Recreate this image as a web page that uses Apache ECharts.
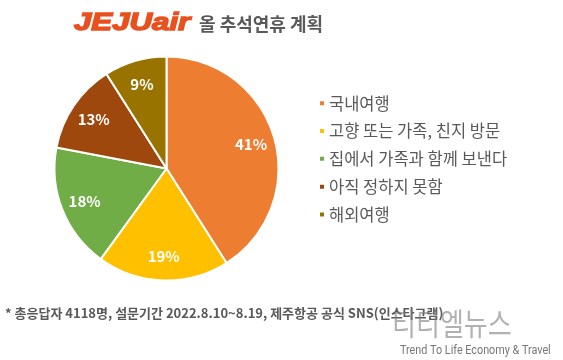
<!DOCTYPE html>
<html><head><meta charset="utf-8">
<script src="https://cdn.jsdelivr.net/npm/echarts@6/dist/echarts.min.js"></script>
<style>html,body{margin:0;padding:0;background:#fff;}#c{width:563px;height:360px;}</style>
</head><body><div id="c"></div>
<script>
const categories = ['국내여행', '고향 또는 가족, 친지 방문', '집에서 가족과 함께 보낸다', '아직 정하지 못함', '해외여행'];
const values = [41, 19, 18, 13, 9];
const colors = ['#ED7D31', '#FFC000', '#70AD47', '#9E480E', '#997300'];
const titleText = '올 추석연휴 계획';
const footnote = '* 총응답자 4118명, 설문기간 2022.8.10~8.19, 제주항공 공식 SNS(인스타그램)';

const font = '"Noto Sans CJK KR", "Noto Sans", sans-serif';
const data = categories.map((c, i) => ({ name: c, value: values[i], itemStyle: { color: colors[i] } }));
const labelData = categories.map((c, i) => ({ name: c, value: values[i] }));
const chart = echarts.init(document.getElementById('c'), null, { renderer: 'canvas' });
chart.setOption({
  backgroundColor: '#fff',
  animation: false,
  color: colors,
  legend: {
    data: categories,
    orient: 'vertical',
    left: 313, top: 90,
    icon: 'rect', itemWidth: 6, itemHeight: 6, itemGap: 11.3,
    textStyle: { fontFamily: font, fontSize: 16.5, color: '#595959', lineHeight: 16.5, padding: [0, 0, 0, -1] },
    selectedMode: false
  },
  series: [
    {
      type: 'pie', center: [166.5, 168.5], radius: 112, startAngle: 90, clockwise: true,
      data: data, label: { show: false }, labelLine: { show: false },
      itemStyle: { borderColor: '#fff', borderWidth: 2 }, silent: true
    },
    {
      type: 'pie', center: [166.5, 168.5], radius: [62, 108], startAngle: 90, clockwise: true,
      data: labelData, silent: true, legendHoverLink: false,
      itemStyle: { color: 'rgba(0,0,0,0)' },
      label: { show: true, position: 'inside', formatter: '{c}%', color: '#fff', fontFamily: font, fontSize: 15, fontWeight: 'bold' },
      labelLine: { show: false }
    }
  ],
  graphic: [
    { type: 'text', x: 74, y: 11, scaleX: 1.3, style: { text: 'JEJUair', font: 'italic 900 24px "Liberation Sans", Arial, sans-serif', fill: '#E8501E', stroke: '#E8501E', lineWidth: 1.4 } },
    { type: 'text', left: 199, top: 15, style: { text: titleText, font: 'bold 18px ' + font, fill: '#595959' } },
    { type: 'text', left: 5, top: 307, style: { text: footnote, font: 'bold 13px ' + font, fill: '#595959' } },
    { type: 'text', x: 392, y: 308, scaleX: 0.84, style: { text: '티티엘뉴스', font: '31px ' + font, fill: 'rgba(125,125,125,0.6)' } },
    { type: 'text', x: 400, y: 345, scaleX: 0.9, style: { text: 'Trend To Life Economy & Travel', font: '12px Roboto, sans-serif', fill: '#777' } }
  ]
});
</script></body></html>
